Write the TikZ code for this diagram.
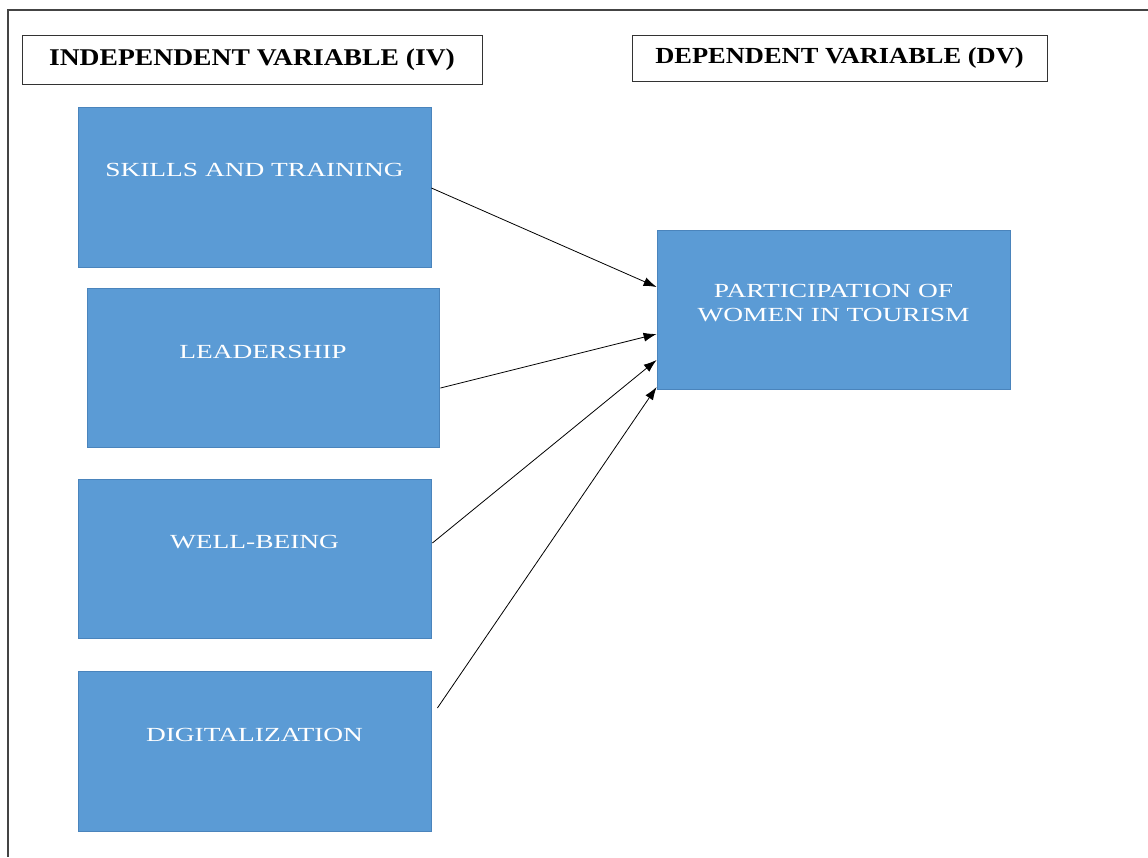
\documentclass[tikz,border=0pt]{standalone}
\usepackage{fontspec}
\setmainfont{Liberation Serif}
\newfontfamily\boxfont[FakeStretch=1.37]{Liberation Serif}
\newfontfamily\headfont[FakeStretch=1.15]{Liberation Serif}
\usetikzlibrary{arrows.meta}
\definecolor{boxblue}{HTML}{5B9BD5}
\definecolor{boxedge}{HTML}{4A84BC}
\definecolor{framegray}{HTML}{444444}
\tikzset{
  varbox/.style={draw=boxedge, line width=0.8pt, fill=boxblue, rectangle,
    minimum width=353pt, minimum height=160pt, inner sep=0pt},
  boxtext/.style={text=white, font=\boxfont\fontsize{20}{24}\selectfont, align=center},
  headbox/.style={draw=black!80, line width=0.9pt, fill=white, rectangle,
    minimum height=49pt, inner sep=0pt,
    font=\headfont\bfseries\fontsize{24}{28}\selectfont},
  link/.style={draw=black, line width=0.8pt, -{Latex[length=13pt,width=9pt]}},
  frameline/.style={draw=framegray, line width=1.4pt}
}
\begin{document}
\begin{tikzpicture}[x=1pt,y=-1pt]
\useasboundingbox (0,0) rectangle (1148,857);
\fill[white] (0,0) rectangle (1148,857);
\coordinate (f0) at (8,10);
\coordinate (f1) at (1148,10);
\coordinate (f2) at (8,857);
\draw[frameline] (f1) -- (f0) -- (f2);

\node[headbox, minimum width=460pt] (iv) at (252,59.5) {INDEPENDENT VARIABLE (IV)};
\node[headbox, minimum width=415pt, minimum height=46pt, font=\headfont\bfseries\fontsize{23}{27}\selectfont] (dv) at (839.5,58) {DEPENDENT VARIABLE (DV)};

\node[varbox, label={[boxtext, yshift=17pt]center:SKILLS AND TRAINING}] (sk) at (254.5,187) {};
\node[varbox, minimum width=352pt, minimum height=159pt, label={[boxtext, yshift=16pt]center:LEADERSHIP}] (ld) at (263,367.5) {};
\node[varbox, minimum height=159pt, label={[boxtext, yshift=16pt]center:WELL-BEING}] (wb) at (254.5,558.5) {};
\node[varbox, label={[boxtext, yshift=16pt]center:DIGITALIZATION}] (dg) at (254.5,751) {};
\node[varbox, minimum height=159pt, label={[boxtext, yshift=6pt]center:PARTICIPATION OF\\WOMEN IN TOURISM}] (pw) at (833.5,309.5) {};

\draw[link] ([yshift=-1pt]sk.east) -- ([yshift=22.5pt]pw.west);
\draw[link] ([xshift=1pt,yshift=-20.5pt]ld.east) -- ([yshift=-24.5pt]pw.west);
\draw[link] ([xshift=1pt,yshift=15.5pt]wb.east) -- ([yshift=-50.5pt]pw.west);
\draw[link] ([xshift=6pt,yshift=43pt]dg.east) -- ([yshift=-77.5pt]pw.west);
\end{tikzpicture}
\end{document}
